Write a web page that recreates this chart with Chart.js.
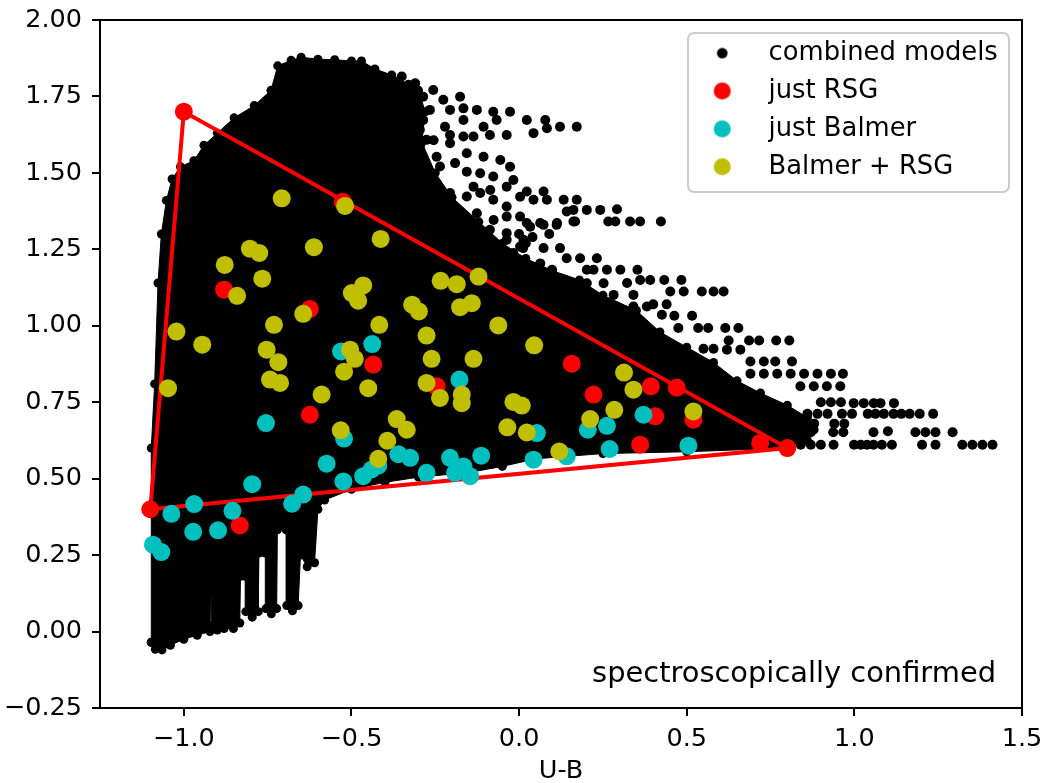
<!DOCTYPE html>
<html>
<head>
<meta charset="utf-8">
<script src="https://cdn.jsdelivr.net/npm/chart.js@4.4.1/dist/chart.umd.min.js"></script>
<style>
  html, body { margin: 0; padding: 0; background: #fff; }
  #wrap { width: 1044px; height: 783px; }
</style>
</head>
<body>
<div id="wrap"><canvas id="grafica" width="1044" height="783"></canvas></div>
<script>
// ticks
const xTickVals = [-1.0, -0.5, 0.0, 0.5, 1.0, 1.5];
const xTickLabels = ['\u22121.0', '\u22120.5', '0.0', '0.5', '1.0', '1.5'];
const yTickVals = [-0.25, 0.0, 0.25, 0.5, 0.75, 1.0, 1.25, 1.5, 1.75, 2.0];
const yTickLabels = ['\u22120.25', '0.00', '0.25', '0.50', '0.75', '1.00', '1.25', '1.50', '1.75', '2.00'];

const legendNames = ['combined models', 'just RSG', 'just Balmer', 'Balmer + RSG'];

// outline of the dense part of the model cloud
const cloudOutline = [
  [-1.097,-0.035],[-1.097,0.60],[-1.087,0.81],[-1.077,1.14],[-1.067,1.30],[-1.052,1.41],[-1.035,1.48],
  [-1.010,1.52],[-0.970,1.54],[-0.940,1.59],[-0.900,1.63],[-0.850,1.68],[-0.790,1.72],[-0.740,1.77],
  [-0.720,1.85],[-0.680,1.868],[-0.650,1.878],[-0.600,1.872],[-0.550,1.870],[-0.500,1.866],[-0.470,1.866],
  [-0.430,1.840],[-0.380,1.820],[-0.330,1.790],[-0.300,1.770],[-0.280,1.700],[-0.290,1.600],[-0.250,1.500],
  [-0.200,1.420],[-0.120,1.340],[-0.050,1.270],[0.020,1.220],[0.100,1.180],[0.180,1.150],[0.250,1.100],
  [0.350,1.050],[0.420,0.980],[0.500,0.930],
  [0.580,0.880],[0.650,0.820],[0.720,0.780],[0.800,0.740],[0.860,0.700],[0.880,0.660],[0.860,0.625],[0.800,0.600],
  [0.500,0.588],[0.250,0.582],[0.050,0.565],[-0.050,0.540],[-0.150,0.520],[-0.300,0.505],[-0.400,0.488],
  [-0.500,0.465],[-0.580,0.430],[-0.600,0.400],[-0.610,0.225],[-0.632,0.212],[-0.652,0.25],[-0.659,0.085],
  [-0.676,0.068],[-0.693,0.085],[-0.695,0.333],[-0.721,0.333],[-0.723,0.075],[-0.739,0.058],[-0.755,0.075],
  [-0.757,0.257],[-0.776,0.257],[-0.778,0.065],[-0.796,0.047],[-0.815,0.065],[-0.817,0.181],[-0.831,0.181],
  [-0.833,0.028],[-0.852,0.010],[-0.880,0.010],[-0.900,0.005],[-0.917,0.020],[-0.918,0.126],[-0.920,0.126],
  [-0.922,0.000],[-0.960,-0.012],[-1.000,-0.025],[-1.040,-0.045],[-1.065,-0.060],[-1.085,-0.058],[-1.097,-0.035]
];

// single model dots outside the dense part
const modelDots = [
  [-0.350,1.815],[-0.310,1.793],[-0.286,1.749],[-0.256,1.771],[-0.226,1.739],[-0.176,1.749],[-0.206,1.706],
  [-0.166,1.711],[-0.266,1.706],[-0.286,1.673],[-0.296,1.641],[-0.221,1.651],[-0.206,1.624],[-0.166,1.619],
  [-0.166,1.673],[-0.126,1.706],[-0.077,1.700],[-0.027,1.700],[-0.106,1.651],[-0.067,1.673],[-0.136,1.619],
  [-0.087,1.624],[-0.037,1.624],[0.023,1.673],[0.043,1.630],[0.078,1.673],[0.083,1.646],[0.122,1.651],
  [0.172,1.651],[-0.276,1.608],[-0.296,1.586],[-0.316,1.553],[-0.286,1.532],[-0.246,1.553],[-0.236,1.521],
  [-0.191,1.532],[-0.156,1.504],[-0.116,1.499],[-0.077,1.488],[-0.017,1.477],[-0.256,1.455],[-0.206,1.434],
  [-0.156,1.423],[-0.116,1.434],[-0.077,1.412],[-0.037,1.390],[-0.176,1.357],[-0.126,1.368],[-0.087,1.314],
  [-0.037,1.303],[-0.116,1.281],[-0.017,1.238],[-0.096,1.238],
  [-0.255,1.607],[-0.206,1.597],[-0.156,1.564],[-0.106,1.553],[-0.056,1.542],[-0.027,1.520],[-0.136,1.455],
  [-0.086,1.444],[-0.037,1.455],[0.003,1.422],[-0.226,1.390],[-0.186,1.368],[-0.076,1.346],[-0.037,1.357],
  [-0.146,1.303],[-0.096,1.281],[-0.037,1.281],[0.003,1.259],
  [0.023,1.439],[0.073,1.439],[0.043,1.412],[0.083,1.412],[0.133,1.412],[0.172,1.412],
  [0.142,1.374],[0.162,1.379],[0.202,1.379],[0.242,1.379],[0.292,1.381],
  [0.003,1.357],[0.033,1.324],[0.073,1.330],[0.112,1.330],[0.167,1.341],[0.013,1.281],
  [0.023,1.336],[0.063,1.336],[0.113,1.336],[0.162,1.341],[0.266,1.341],[0.287,1.341],[0.331,1.341],
  [0.361,1.341],[0.423,1.341],[0.000,1.300],[0.040,1.290],[0.020,1.270],[0.090,1.300],
  [0.012,1.254],[0.073,1.254],[0.122,1.254],[0.142,1.221],[0.182,1.221],[0.232,1.221],
  [0.063,1.204],[0.098,1.183],[0.103,1.150],[0.152,1.139],[0.202,1.139],[0.252,1.139],
  [0.202,1.183],[0.222,1.183],[0.262,1.183],[0.302,1.183],[0.353,1.183],
  [0.322,1.140],[0.361,1.150],[0.391,1.150],[0.433,1.150],[0.484,1.150],
  [0.282,1.101],[0.341,1.101],[0.451,1.112],[0.491,1.112],[0.545,1.112],[0.580,1.112],[0.610,1.112],
  [0.341,1.063],[0.381,1.063],[0.400,1.070],[0.440,1.070],[0.426,1.036],[0.463,1.033],[0.516,1.033],
  [0.475,0.993],[0.534,0.993],[0.564,0.993],[0.615,0.993],[0.654,0.993],
  [0.625,0.952],[0.686,0.952],[0.716,0.952],[0.767,0.952],[0.806,0.952],
  [0.550,0.925],[0.580,0.925],[0.620,0.922],[0.660,0.922],
  [0.690,0.883],[0.730,0.883],[0.764,0.883],[0.814,0.883],
  [0.690,0.843],[0.730,0.843],[0.770,0.843],[0.810,0.843],[0.850,0.843],[0.890,0.843],[0.930,0.843],[0.966,0.843],
  [0.839,0.802],[0.879,0.802],[0.918,0.802],[0.958,0.802],
  [0.900,0.750],[0.930,0.750],[0.960,0.750],[0.998,0.747],[1.028,0.747],[1.058,0.747],[1.078,0.747],[1.118,0.747],
  [0.860,0.712],[0.890,0.712],[0.920,0.712],[0.963,0.712],[0.993,0.712],[1.040,0.712],[1.063,0.712],[1.088,0.712],
  [1.117,0.712],[1.140,0.712],[1.165,0.712],[1.195,0.712],[1.235,0.712],
  [0.800,0.680],[0.850,0.680],[0.880,0.680],[0.940,0.680],[0.970,0.680],
  [0.800,0.652],[0.840,0.652],[0.870,0.652],[0.937,0.652],[0.967,0.652],[1.057,0.652],[1.100,0.655],
  [1.182,0.652],[1.212,0.652],[1.242,0.652],[1.293,0.652],
  [0.840,0.611],[0.870,0.611],[0.900,0.611],[0.938,0.611],[0.999,0.611],[1.019,0.611],[1.038,0.611],
  [1.057,0.611],[1.082,0.611],[1.112,0.611],[1.202,0.611],[1.242,0.611],[1.322,0.611],[1.352,0.611],
  [1.382,0.611],[1.412,0.611]
];

const triangle = [[-1.0,1.70],[0.80,0.60],[-1.10,0.40],[-1.0,1.70]];

const rsgPts = [
  [-0.526,1.406],[-0.880,1.118],[-0.624,1.055],[-0.435,0.873],[-0.624,0.709],[-0.833,0.347],[-0.246,0.802],
  [0.157,0.876],[0.222,0.775],[0.393,0.802],[0.470,0.798],[0.406,0.704],[0.520,0.693],[0.361,0.611],[0.719,0.617]
];

const balmerPts = [
  [-0.531,0.916],[-0.438,0.940],[-0.178,0.824],[-0.755,0.682],[-0.522,0.631],[-0.574,0.549],[-0.524,0.491],
  [-0.465,0.508],[-0.440,0.530],[-0.420,0.543],[-0.360,0.580],[-0.325,0.568],[-0.276,0.519],[-0.206,0.568],
  [-0.191,0.519],[-0.166,0.540],[-0.146,0.508],[-0.113,0.575],[0.043,0.562],[0.053,0.649],[0.142,0.573],
  [0.205,0.660],[0.262,0.673],[0.270,0.597],[0.371,0.709],[0.505,0.608],[-0.796,0.482],[-0.644,0.448],
  [-0.677,0.418],[-1.037,0.385],[-0.969,0.417],[-0.855,0.395],[-0.972,0.326],[-0.898,0.331],[-1.092,0.284],
  [-1.067,0.260]
];

const bothPts = [
  [-0.708,1.417],[-0.519,1.392],[-0.413,1.284],[-0.612,1.257],[-0.803,1.252],[-0.775,1.238],[-0.878,1.199],
  [-0.766,1.154],[-0.841,1.098],[-0.465,1.132],[-0.499,1.107],[-0.480,1.082],[-0.644,1.039],[-0.731,1.003],
  [-0.417,1.003],[-1.022,0.981],[-0.945,0.938],[-0.753,0.922],[-0.718,0.881],[-0.504,0.922],[-0.490,0.892],
  [-0.522,0.850],[-0.234,1.147],[-0.186,1.136],[-0.121,1.161],[-0.176,1.061],[-0.141,1.074],[-0.062,1.001],
  [-0.319,1.069],[-0.299,1.047],[-0.276,0.968],[-0.261,0.892],[-0.136,0.892],[0.045,0.936],[-0.450,0.796],
  [-0.276,0.813],[-0.171,0.775],[-0.171,0.747],[-0.236,0.764],[-0.743,0.824],[-0.713,0.813],[-0.589,0.775],
  [-1.047,0.796],[-0.532,0.658],[-0.365,0.695],[-0.335,0.660],[-0.393,0.624],[-0.420,0.565],[-0.017,0.751],
  [0.008,0.739],[-0.035,0.668],[0.023,0.651],[0.120,0.589],[0.212,0.695],[0.284,0.725],[0.313,0.847],
  [0.341,0.791],[0.520,0.720]
];

const toXY = arr => arr.map(p => ({ x: p[0], y: p[1] }));

function circleImg(r, color) {
  const c = document.createElement('canvas');
  const s = Math.ceil(2 * r + 2);
  c.width = s; c.height = s;
  const g = c.getContext('2d');
  g.fillStyle = color;
  g.beginPath();
  g.arc(s / 2, s / 2, r, 0, Math.PI * 2);
  g.fill();
  return c;
}

const legendMarkers = [
  circleImg(5.3, '#000000'),
  circleImg(8.5, '#ff0000'),
  circleImg(8.5, '#00bfbf'),
  circleImg(8.5, '#bfbf00')
];

const tickFont = { family: 'DejaVu Sans', size: 25.5 };
const legendFont = { family: 'DejaVu Sans', size: 25.8 };

// legend frame + outer frame + text label
const framePlugin = {
  id: 'frame',
  beforeDraw(chart) {
    const c = chart.ctx;
    c.save();
    c.fillStyle = 'rgba(255,255,255,0.8)';
    c.strokeStyle = '#cccccc';
    c.lineWidth = 2;
    c.beginPath();
    c.roundRect(688, 33, 321, 159, 6);
    c.fill();
    c.stroke();
    c.restore();
  },
  afterDraw(chart) {
    const a = chart.chartArea;
    const c = chart.ctx;
    c.save();
    c.strokeStyle = '#000';
    c.lineWidth = 2;
    c.strokeRect(a.left, a.top, a.right - a.left, a.bottom - a.top);
    c.fillStyle = '#000';
    c.font = '28.9px "DejaVu Sans"';
    c.textAlign = 'right';
    c.textBaseline = 'alphabetic';
    c.fillText('spectroscopically confirmed', 996, 682);
    c.restore();
  }
};

const moveLegend = {
  id: 'moveLegend',
  afterLayout(chart) {
    const lg = chart.legend;
    const w = lg.width, h = lg.height;
    lg.left = 689.6 - 13;
    lg.top = 54 - 12.9 - 13;
    lg.right = lg.left + w;
    lg.bottom = lg.top + h;
  }
};

const graph = document.getElementById('grafica');

new Chart(graph, {
  type: 'scatter',
  data: {
    datasets: [
      {
        label: 'cloud',
        data: toXY(cloudOutline),
        showLine: true,
        fill: 'shape',
        backgroundColor: '#000',
        borderColor: '#000',
        borderWidth: 1,
        pointRadius: 4.5,
        pointBackgroundColor: '#000',
        pointBorderWidth: 0,
        order: 6
      },
      {
        label: legendNames[0],
        data: toXY(modelDots),
        pointRadius: 5,
        backgroundColor: '#000',
        borderWidth: 0,
        order: 5
      },
      {
        label: 'triangle',
        data: toXY(triangle),
        showLine: true,
        borderColor: '#ff0000',
        borderWidth: 4,
        pointRadius: [9, 9, 9, 0],
        pointBackgroundColor: '#ff0000',
        pointBorderWidth: 0,
        order: 4
      },
      {
        label: legendNames[1],
        data: toXY(rsgPts),
        pointRadius: 9,
        backgroundColor: '#ff0000',
        borderWidth: 0,
        order: 3
      },
      {
        label: legendNames[2],
        data: toXY(balmerPts),
        pointRadius: 9,
        backgroundColor: '#00bfbf',
        borderWidth: 0,
        order: 2
      },
      {
        label: legendNames[3],
        data: toXY(bothPts),
        pointRadius: 9,
        backgroundColor: '#bfbf00',
        borderWidth: 0,
        order: 1
      }
    ]
  },
  options: {
    responsive: false,
    animation: false,
    events: [],
    layout: { autoPadding: false, padding: { left: 0, right: 22, top: 20, bottom: 0 } },
    scales: {
      x: {
        type: 'linear',
        min: -1.25,
        max: 1.5,
        afterBuildTicks: s => { s.ticks = xTickVals.map(v => ({ value: v })); },
        afterFit: s => { s.height = 75; s.paddingLeft = 0; s.paddingRight = 0; s.paddingTop = 0; s.paddingBottom = 0; },
        ticks: {
          callback: (v, i) => xTickLabels[i],
          font: tickFont,
          color: '#000',
          padding: 8,
          maxRotation: 0,
          autoSkip: false
        },
        grid: { display: true, drawOnChartArea: false, drawTicks: true, tickLength: 8, lineWidth: 2, color: '#000' },
        border: { display: true, color: '#000', width: 2 },
        title: { display: true, text: 'U-B', font: tickFont, color: '#000', padding: { top: 0, bottom: -4 } }
      },
      y: {
        type: 'linear',
        min: -0.25,
        max: 2.0,
        afterBuildTicks: s => { s.ticks = yTickVals.map(v => ({ value: v })); },
        afterFit: s => { s.width = 100; s.paddingLeft = 0; s.paddingRight = 0; s.paddingTop = 0; s.paddingBottom = 0; },
        ticks: {
          callback: (v, i) => yTickLabels[i],
          font: tickFont,
          color: '#000',
          padding: 10,
          autoSkip: false
        },
        grid: { display: true, drawOnChartArea: false, drawTicks: true, tickLength: 8, lineWidth: 2, color: '#000' },
        border: { display: true, color: '#000', width: 2 }
      }
    },
    plugins: {
      tooltip: { enabled: false },
      legend: {
        position: 'chartArea',
        align: 'start',
        labels: {
          usePointStyle: true,
          pointStyleWidth: 67,
          boxHeight: 25.8,
          padding: 12.1,
          font: legendFont,
          color: '#000',
          generateLabels: () => legendNames.map((t, i) => ({
            text: t,
            pointStyle: legendMarkers[i],
            fillStyle: '#000',
            strokeStyle: 'transparent',
            lineWidth: 0,
            hidden: false,
            datasetIndex: i
          }))
        }
      }
    }
  },
  plugins: [framePlugin, moveLegend]
});
</script>
</body>
</html>
